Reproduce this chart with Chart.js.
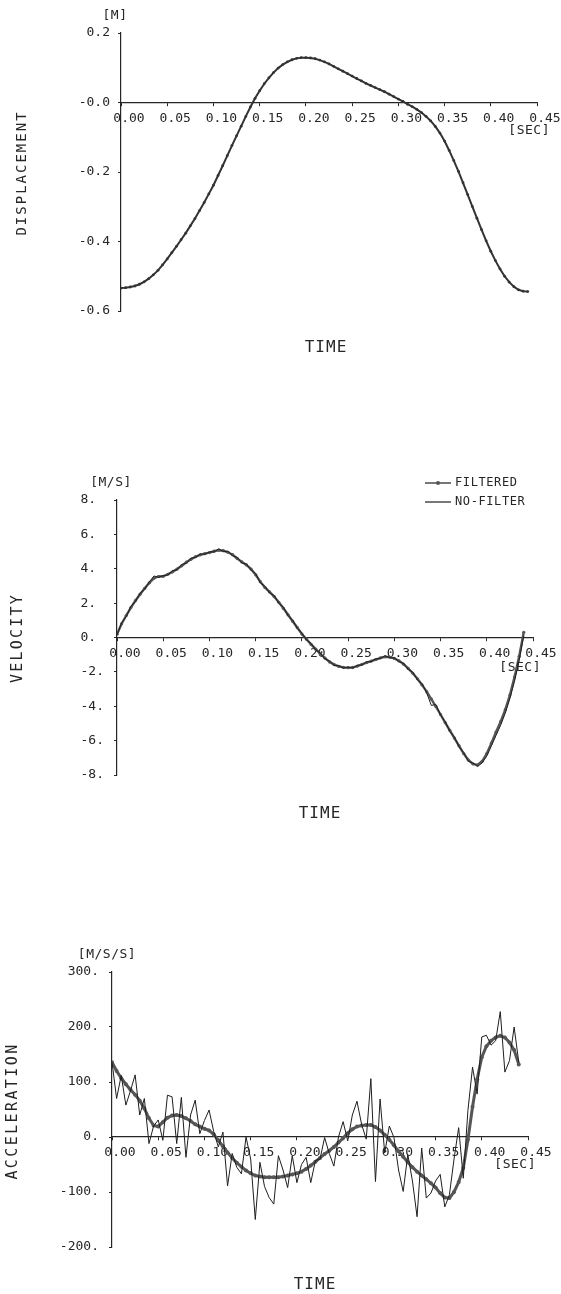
<!DOCTYPE html>
<html>
<head>
<meta charset="utf-8">
<script src="https://cdn.jsdelivr.net/npm/chart.js@4.4.1/dist/chart.umd.min.js"></script>
<style>
  html, body { margin: 0; padding: 0; background: #fff; }
  body { width: 561px; height: 1294px; position: relative; overflow: hidden; }
  canvas { position: absolute; left: 0; }
</style>
</head>
<body>
<canvas id="disp" width="561" height="400" style="top:0px"></canvas>
<canvas id="vel" width="561" height="430" style="top:420px"></canvas>
<canvas id="acc" width="561" height="394" style="top:900px"></canvas>
<script>
const INK = '#262626';
const GREY = '#555555';
const MONO = '"DejaVu Sans Mono", monospace';

// sample times [sec]
const times = [
  0.000, 0.005, 0.010, 0.015, 0.020, 0.025, 0.030, 0.035, 0.040, 0.045,
  0.050, 0.055, 0.060, 0.065, 0.070, 0.075, 0.080, 0.085, 0.090, 0.095,
  0.100, 0.105, 0.110, 0.115, 0.120, 0.125, 0.130, 0.135, 0.140, 0.145,
  0.150, 0.155, 0.160, 0.165, 0.170, 0.175, 0.180, 0.185, 0.190, 0.195,
  0.200, 0.205, 0.210, 0.215, 0.220, 0.225, 0.230, 0.235, 0.240, 0.245,
  0.250, 0.255, 0.260, 0.265, 0.270, 0.275, 0.280, 0.285, 0.290, 0.295,
  0.300, 0.305, 0.310, 0.315, 0.320, 0.325, 0.330, 0.335, 0.340, 0.345,
  0.350, 0.355, 0.360, 0.365, 0.370, 0.375, 0.380, 0.385, 0.390, 0.395,
  0.400, 0.405, 0.410, 0.415, 0.420, 0.425, 0.430, 0.435, 0.440
];

// displacement [M]
const displacement = [
  -0.534, -0.533, -0.531, -0.528, -0.523, -0.516, -0.507, -0.496, -0.483, -0.467,
  -0.450, -0.432, -0.414, -0.395, -0.376, -0.355, -0.334, -0.311, -0.288, -0.263,
  -0.238, -0.210, -0.182, -0.153, -0.124, -0.096, -0.068, -0.040, -0.013, 0.012,
  0.034, 0.054, 0.071, 0.086, 0.099, 0.109, 0.117, 0.123, 0.127, 0.129,
  0.129, 0.128, 0.126, 0.122, 0.117, 0.111, 0.104, 0.097, 0.090, 0.083,
  0.076, 0.069, 0.062, 0.055, 0.049, 0.043, 0.037, 0.031, 0.024, 0.017,
  0.010, 0.003, -0.005, -0.012, -0.020, -0.029, -0.040, -0.053, -0.069, -0.088,
  -0.111, -0.138, -0.167, -0.198, -0.231, -0.265, -0.299, -0.333, -0.366, -0.398,
  -0.428, -0.455, -0.479, -0.500, -0.517, -0.530, -0.539, -0.543, -0.544
];

// velocity [M/S]
const velFiltered = [
  0.19, 0.80, 1.28, 1.74, 2.15, 2.52, 2.86, 3.18, 3.45, 3.55,
  3.56, 3.68, 3.82, 3.98, 4.17, 4.38, 4.55, 4.70, 4.81, 4.88,
  4.94, 5.02, 5.08, 5.05, 4.96, 4.82, 4.60, 4.40, 4.22, 3.98,
  3.65, 3.25, 2.91, 2.65, 2.38, 2.05, 1.70, 1.32, 0.95, 0.58,
  0.20, -0.10, -0.40, -0.68, -0.95, -1.20, -1.42, -1.58, -1.68, -1.74,
  -1.76, -1.74, -1.66, -1.56, -1.46, -1.37, -1.28, -1.18, -1.12, -1.14,
  -1.22, -1.36, -1.55, -1.80, -2.08, -2.40, -2.76, -3.15, -3.58, -4.02,
  -4.48, -4.95, -5.40, -5.85, -6.30, -6.75, -7.12, -7.35, -7.42, -7.20,
  -6.75, -6.15, -5.50, -4.90, -4.20, -3.35, -2.30, -1.10, 0.30
];
const velRaw = [
  0.15, 0.85, 1.22, 1.80, 2.10, 2.58, 2.82, 3.24, 3.58, 3.50,
  3.60, 3.64, 3.88, 3.94, 4.25, 4.32, 4.62, 4.66, 4.86, 4.84,
  4.98, 4.98, 5.16, 5.00, 5.02, 4.76, 4.66, 4.34, 4.28, 3.92,
  3.72, 3.18, 2.98, 2.60, 2.44, 2.00, 1.76, 1.28, 1.00, 0.54,
  0.25, -0.14, -0.36, -0.72, -0.92, -1.24, -1.38, -1.62, -1.64, -1.78,
  -1.72, -1.78, -1.62, -1.60, -1.42, -1.40, -1.24, -1.22, -1.06, -1.18,
  -1.18, -1.40, -1.50, -1.86, -2.02, -2.46, -2.70, -3.22, -3.95, -3.90,
  -4.52, -4.90, -5.46, -5.80, -6.36, -6.70, -7.20, -7.30, -7.50, -7.30,
  -6.90, -6.30, -5.70, -5.10, -4.40, -3.55, -2.55, -1.35, 0.10
];

// acceleration [M/S/S]
const accFiltered = [
  136, 120, 107, 96, 86, 77, 66, 52, 34, 21,
  19, 27, 35, 39, 40, 38, 34, 29, 23, 19,
  15, 12, 5, -6, -17, -28, -38, -47, -54, -61,
  -66, -70, -72, -73, -73, -73, -73, -72, -70, -68,
  -66, -63, -58, -52, -45, -38, -31, -25, -18, -10,
  -2, 7, 14, 19, 21, 22, 22, 18, 12, 4,
  -5, -15, -26, -36, -46, -55, -63, -70, -77, -84,
  -92, -102, -110, -111, -100, -82, -56, -5, 55, 105,
  145, 165, 175, 181, 184, 181, 172, 158, 132
];
const accRaw = [
  136, 70, 112, 58, 84, 113, 40, 70, -12, 20,
  31, -6, 76, 73, -12, 72, -37, 40, 67, 6,
  30, 49, 10, -18, 9, -89, -30, -55, -67, 0,
  -40, -150, -46, -90, -110, -122, -34, -60, -92, -34,
  -83, -50, -37, -83, -43, -40, -1, -30, -53, 0,
  28, -7, 40, 65, 23, -4, 106, -81, 69, -29,
  20, -1, -60, -99, -32, -80, -145, -20, -111, -102,
  -80, -68, -127, -105, -40, 17, -75, 48, 127, 78,
  182, 185, 167, 175, 228, 118, 139, 200, 136
];

// tick values and labels
const timeTicks = [0, 0.05, 0.10, 0.15, 0.20, 0.25, 0.30, 0.35, 0.40, 0.45];
const timeLabels = ['0.00', '0.05', '0.10', '0.15', '0.20', '0.25', '0.30', '0.35', '0.40', '0.45'];
const dispTicks = [-0.6, -0.4, -0.2, 0, 0.2];
const dispLabels = ['-0.6', '-0.4', '-0.2', '-0.0', '0.2'];
const velTicks = [-8, -6, -4, -2, 0, 2, 4, 6, 8];
const velLabels = ['-8.', '-6.', '-4.', '-2.', '0. ', '2. ', '4. ', '6. ', '8. '];
const accTicks = [-200, -100, 0, 100, 200, 300];
const accLabels = ['-200.', '-100.', '0.', '100.', '200.', '300.'];
const seriesNames = ['FILTERED', 'NO-FILTER'];

const pts = (ys) => ys.map((y, i) => ({ x: times[i], y: y }));

function put(ctx, s, x, y, size, align, spacing, rot) {
  ctx.save();
  ctx.font = size + 'px ' + MONO;
  ctx.fillStyle = INK;
  ctx.textAlign = align;
  ctx.textBaseline = 'middle';
  ctx.letterSpacing = spacing + 'px';
  ctx.translate(x, y);
  if (rot) ctx.rotate(rot);
  ctx.fillText(s, 0, 0);
  ctx.restore();
}

// unit, [SEC], TIME, axis title and the legend box
const annot = {
  id: 'annot',
  afterDraw(chart, args, o) {
    const ctx = chart.ctx;
    put(ctx, o.unit, o.unitX, o.unitY, 13, 'center', 0.5);
    put(ctx, '[SEC]', o.secX, o.secY, 13, 'right', 0.5);
    put(ctx, 'TIME', o.timeX, o.timeY, 16, 'center', 1);
    put(ctx, o.title, o.titleX, o.titleY, o.titleSize, 'center', o.titleSpacing, -Math.PI / 2);
    if (o.legend) {
      const ds = chart.data.datasets;
      const rows = [ds[1], ds[0]];
      rows.forEach((d, i) => {
        const y = o.legendY + i * 19;
        ctx.save();
        ctx.strokeStyle = d.borderColor;
        ctx.lineWidth = i === 0 ? 1.6 : 1.2;
        ctx.beginPath();
        ctx.moveTo(o.legendX, y);
        ctx.lineTo(o.legendX + 26, y);
        ctx.stroke();
        if (i === 0) {
          ctx.fillStyle = d.borderColor;
          ctx.beginPath();
          ctx.arc(o.legendX + 13, y, 2, 0, Math.PI * 2);
          ctx.fill();
        }
        ctx.restore();
        put(ctx, seriesNames[i], o.legendX + 30, y, 12, 'left', 0.6);
      });
    }
  }
};

function makeChart(id, datasets, yTicks, yLabels, area, yPad, annotOpts) {
  return new Chart(document.getElementById(id), {
    type: 'line',
    data: { datasets: datasets },
    options: {
      responsive: false,
      animation: false,
      devicePixelRatio: 1,
      layout: { padding: { left: 0, right: area.right, top: area.top, bottom: area.bottom } },
      plugins: { legend: { display: false }, tooltip: { enabled: false }, annot: annotOpts },
      elements: { line: { tension: 0 } },
      scales: {
        x: {
          type: 'linear',
          min: 0,
          max: 0.45,
          position: { y: 0 },
          afterBuildTicks: (s) => { s.ticks = timeTicks.map((v) => ({ value: v })); },
          ticks: {
            autoSkip: false,
            maxRotation: 0,
            minRotation: 0,
            padding: 5,
            labelOffset: 8,
            color: INK,
            font: { family: MONO, size: 13 },
            callback: (v, i) => timeLabels[i]
          },
          grid: { drawOnChartArea: false, drawTicks: true, tickLength: 3, color: INK, lineWidth: 1 },
          border: { display: true, color: INK, width: 1.2 }
        },
        y: {
          type: 'linear',
          min: yTicks[0],
          max: yTicks[yTicks.length - 1],
          afterFit: (s) => { s.width = area.left; },
          afterBuildTicks: (s) => { s.ticks = yTicks.map((v) => ({ value: v })); },
          ticks: {
            padding: yPad,
            color: INK,
            font: { family: MONO, size: 13 },
            callback: (v, i) => yLabels[i]
          },
          grid: { drawOnChartArea: false, drawTicks: true, tickLength: 3, color: INK, lineWidth: 1 },
          border: { display: true, color: INK, width: 1.2 }
        }
      }
    },
    plugins: [annot]
  });
}

makeChart('disp', [
  {
    data: pts(displacement),
    borderColor: '#333333',
    borderWidth: 2,
    pointRadius: 1.4,
    pointBorderWidth: 0,
    pointBackgroundColor: '#333333'
  }
], dispTicks, dispLabels,
  { left: 121, right: 24, top: 33, bottom: 89 }, 8,
  { unit: '[M]', unitX: 115, unitY: 16, secX: 550, secY: 131, timeX: 326, timeY: 348,
    title: 'DISPLACEMENT', titleX: 22, titleY: 173, titleSize: 14, titleSpacing: 2 });

makeChart('vel', [
  {
    label: seriesNames[1],
    data: pts(velRaw),
    borderColor: '#1e1e1e',
    borderWidth: 1,
    pointRadius: 0
  },
  {
    label: seriesNames[0],
    data: pts(velFiltered),
    borderColor: GREY,
    borderWidth: 2.4,
    pointRadius: 1.6,
    pointBorderWidth: 0,
    pointBackgroundColor: GREY
  }
], velTicks, velLabels,
  { left: 117, right: 28, top: 80, bottom: 75 }, 10,
  { unit: '[M/S]', unitX: 111, unitY: 63, secX: 541, secY: 248, timeX: 320, timeY: 394,
    title: 'VELOCITY', titleX: 18, titleY: 218, titleSize: 15, titleSpacing: 2.2,
    legend: true, legendX: 425, legendY: 63 });

makeChart('acc', [
  {
    label: seriesNames[1],
    data: pts(accRaw),
    borderColor: '#1e1e1e',
    borderWidth: 1,
    pointRadius: 0
  },
  {
    label: seriesNames[0],
    data: pts(accFiltered),
    borderColor: GREY,
    borderWidth: 3,
    pointRadius: 2,
    pointBorderWidth: 0,
    pointBackgroundColor: GREY
  }
], accTicks, accLabels,
  { left: 112, right: 33, top: 72, bottom: 47 }, 10,
  { unit: '[M/S/S]', unitX: 107, unitY: 55, secX: 536, secY: 265, timeX: 315, timeY: 385,
    title: 'ACCELERATION', titleX: 13, titleY: 211, titleSize: 15, titleSpacing: 2.4 });
</script>
</body>
</html>
